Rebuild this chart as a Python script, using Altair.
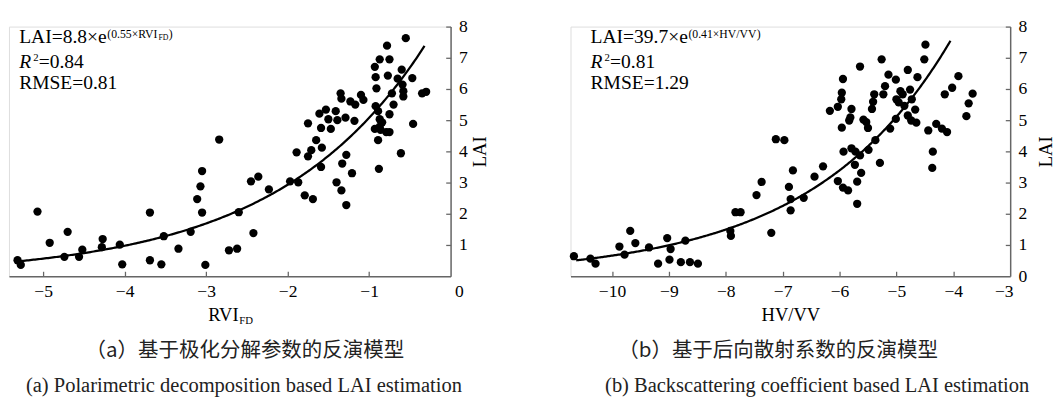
import altair as alt
import pandas as pd

SERIF = "Liberation Serif"
CJK = "Noto Sans CJK SC"

# ---- data ----
left_x = [-5.315, -5.275, -5.07, -4.92, -4.74, -4.70, -4.56, -4.52, -4.28, -4.27, -4.06, -4.03,
          -3.69, -3.69, -3.55, -3.52, -3.34, -3.19, -3.11, -3.07, -3.05, -3.05, -3.01, -2.84,
          -2.72, -2.62, -2.60, -2.42, -2.45, -2.36, -2.23, -1.97, -1.87, -1.89, -1.79, -1.69,
          -1.75, -1.71, -1.65, -1.58, -1.59, -1.75, -1.59, -1.61, -1.53, -1.50, -1.47, -1.41,
          -1.39, -1.40, -1.34, -1.28, -1.33, -1.28, -1.21, -1.35, -1.34, -1.29, -1.23, -1.17,
          -1.18, -1.10, -1.07, -0.92, -0.91, -0.92, -0.93, -0.87, -0.75, -0.78, -0.77, -0.55,
          -0.60, -0.65, -0.47, -0.59, -0.72, -0.70, -0.75, -0.58, -0.58, -0.89, -0.87, -0.93,
          -0.87, -0.84, -0.86, -0.89, -0.79, -0.75, -0.46, -0.61, -0.88, -0.35, -0.30]
left_y = [0.51, 0.36, 2.07, 1.07, 0.62, 1.42, 0.62, 0.85, 0.93, 1.19, 1.01, 0.38,
          2.04, 0.51, 0.38, 1.28, 0.88, 1.42, 2.47, 2.88, 3.37, 2.04, 0.36, 4.38,
          0.83, 0.88, 2.05, 1.38, 3.04, 3.19, 2.78, 3.04, 3.01, 3.97, 2.59, 2.47,
          3.84, 4.04, 4.36, 4.12, 3.50, 4.90, 4.75, 5.21, 5.34, 5.03, 4.72, 5.29,
          5.00, 3.01, 2.75, 2.28, 3.61, 3.89, 3.30, 5.86, 5.69, 5.08, 5.60, 5.50,
          4.98, 5.81, 5.65, 5.45, 6.02, 6.38, 6.71, 6.95, 6.95, 7.39, 6.43, 7.63,
          6.62, 6.33, 6.35, 6.14, 5.86, 5.50, 5.19, 5.93, 5.76, 5.29, 5.03, 4.72,
          4.79, 4.93, 4.69, 4.36, 4.62, 4.62, 4.88, 3.94, 3.44, 5.86, 5.91]

right_x = [-10.67, -10.38, -10.29, -9.87, -9.78, -9.68, -9.59, -9.35, -9.19, -9.03, -8.97, -8.99,
           -8.79, -8.71, -8.63, -8.49, -7.92, -7.91, -7.83, -7.74, -7.46, -7.37, -7.20, -7.12,
           -6.97, -6.89, -6.86, -6.86, -6.82, -6.63, -6.44, -6.29, -6.17, -6.03, -6.03, -5.94,
           -5.96, -5.97, -5.96, -5.93, -5.94, -5.85, -5.64, -5.79, -5.81, -5.83, -5.79, -5.72,
           -5.64, -5.73, -5.62, -5.69, -5.69, -5.58, -5.53, -5.50, -5.49, -5.43, -5.41, -5.39,
           -5.37, -5.29, -5.26, -5.23, -5.20, -5.14, -5.11, -5.01, -5.01, -5.00, -4.96, -4.93,
           -4.89, -4.86, -4.80, -4.80, -4.76, -4.74, -4.73, -4.67, -4.65, -4.63, -4.51, -4.49,
           -4.44, -4.36, -4.37, -4.30, -4.20, -4.11, -4.15, -4.02, -3.91, -3.77, -3.73, -3.66]
right_y = [0.64, 0.56, 0.40, 0.95, 0.69, 1.45, 1.06, 0.92, 0.40, 1.22, 0.87, 0.53,
           0.45, 1.14, 0.45, 0.40, 1.45, 1.29, 2.05, 2.05, 2.60, 3.02, 1.39, 4.39,
           4.36, 2.86, 2.47, 2.11, 3.39, 2.51, 3.19, 3.52, 5.30, 5.43, 3.05, 6.32,
           5.88, 5.67, 4.76, 3.99, 2.84, 2.75, 6.72, 5.36, 5.09, 4.99, 4.10, 3.99,
           3.87, 3.57, 3.31, 3.03, 2.32, 5.02, 4.94, 4.75, 4.05, 5.36, 5.59, 5.83,
           4.36, 3.63, 6.95, 5.83, 6.09, 6.46, 4.73, 6.30, 5.04, 5.67, 5.57, 5.93,
           5.83, 5.46, 6.61, 5.15, 5.98, 4.99, 5.67, 5.34, 4.92, 6.38, 6.95, 7.42,
           4.67, 3.99, 3.47, 4.88, 4.73, 4.62, 5.83, 6.04, 6.41, 5.13, 5.54, 5.85]

# fitted model coefficients (LAI = a * exp(b * x)), as printed on the chart
left_fit = [8.8, 0.55]
right_fit = [39.7, 0.41]
left_fit_range = [-5.3, -0.31]
right_fit_range = [-10.63, -4.05]

left_ticks_x = [-5, -4, -3, -2, -1, 0]
right_ticks_x = [-10, -9, -8, -7, -6, -5, -4, -3]
left_ticks_y = [1, 2, 3, 4, 5, 6, 7, 8]
right_ticks_y = [0, 1, 2, 3, 4, 5, 6, 7, 8]

left_eq = ["LAI=8.8×e", "(0.55×RVI", "FD", ")"]
right_eq = ["LAI=39.7×e", "(0.41×HV/VV", "", ")"]
left_r2 = ["R", "2", "=0.84"]
right_r2 = ["R", "2", "=0.81"]
left_rmse = "RMSE=0.81"
right_rmse = "RMSE=1.29"
left_xtitle = ["RVI", "FD"]
right_xtitle = ["HV/VV", ""]
left_caption = ["（a）基于极化分解参数的反演模型", "(a) Polarimetric decomposition based LAI estimation"]
right_caption = ["（b）基于后向散射系数的反演模型", "(b) Backscattering coefficient based LAI estimation"]

# Times metrics (Liberation Serif is metric compatible) to place sub/superscripts
TW = {'L': 611, 'A': 722, 'I': 333, '=': 564, '8': 500, '.': 250, '×': 564, 'e': 444, '3': 500,
      '9': 500, '7': 500, '(': 333, ')': 333, '0': 500, '5': 500, '4': 500, '1': 500, 'R': 667,
      'V': 722, 'H': 722, '/': 278, 'F': 556, 'D': 722, 'M': 889, 'S': 556, 'E': 611, '2': 500}


def tw(s, size):
    return sum(TW.get(c, 500) for c in s) * size / 1000.0


def txt(s, x, y, size, style="normal", font=SERIF, align="left", color="black"):
    return alt.Chart(pd.DataFrame({"t": [s]})).mark_text(
        align=align, baseline="alphabetic", fontSize=size, font=font,
        fontStyle=style, color=color
    ).encode(text="t:N", x=alt.value(x), y=alt.value(y))


H = 256
FS = 20
SUP = 12


def panel(xs, ys, xdom, W, xt, yt, fitc, frange, eq, r2, rmse, xtitle, caption, cn_cx,
          en_cx, ytitle_pad, x0, flush_off):
    df = pd.DataFrame({"x": xs, "y": ys})
    xs_ = alt.Scale(domain=xdom, nice=False, zero=False)
    ys_ = alt.Scale(domain=[0, 8], nice=False, zero=False)
    ax_col = "#666666"
    x_main = alt.X("x:Q", scale=xs_, axis=alt.Axis(
        orient="bottom", values=xt, ticks=False, tickSize=0, grid=False,
        domainColor=ax_col, domainWidth=1.5, labelFont=SERIF, labelFontSize=18,
        labelColor="black", labelPadding=7, labelFlush=True, labelFlushOffset=flush_off,
        format="d", title=xtitle[0], titleFont=SERIF, titleFontSize=19,
        titleFontWeight="normal", titleColor="black", titleBaseline="alphabetic",
        titleY=45, titleX=W / 2 - tw(xtitle[1], 11) / 2))
    y_main = alt.Y("y:Q", scale=ys_, axis=alt.Axis(
        orient="right", values=yt, ticks=False, tickSize=0, grid=False,
        domainColor=ax_col, domainWidth=1.5, labelFont=SERIF, labelFontSize=18,
        labelColor="black", labelPadding=8, labelFlush=False, format="d",
        title="LAI", titleFont=SERIF, titleFontSize=19, titleFontWeight="normal",
        titleColor="black", titleAngle=270, titleBaseline="top", titlePadding=ytitle_pad))
    x_tick = alt.X("x:Q", scale=xs_, axis=alt.Axis(
        orient="top", offset=-H, values=[v for v in xt[:-1]], labels=False, domain=False,
        ticks=True, tickSize=5, tickColor=ax_col, tickWidth=1.3, grid=False, title=None,
        minExtent=0, maxExtent=0))
    y_tick = alt.Y("y:Q", scale=ys_, axis=alt.Axis(
        orient="left", offset=-W, values=[v for v in yt if v > 0], labels=False, domain=False,
        ticks=True, tickSize=5, tickColor=ax_col, tickWidth=1.3, grid=False, title=None,
        minExtent=0, maxExtent=0))

    pts = alt.Chart(df).mark_circle(size=72, color="black", opacity=1).encode(x=x_main, y=y_main)
    fit = alt.Chart(alt.sequence(frange[0], frange[1] + 0.001, 0.02, as_="x")).transform_calculate(
        y=f"{fitc[0]} * exp({fitc[1]} * datum.x)"
    ).mark_line(color="black", strokeWidth=2.3).encode(x=x_tick, y=y_tick)

    b1, b2, b3 = 16.6, 42.6, 64.3
    w_main = tw(eq[0], FS)
    sx = x0 + w_main + 0.6
    w_sup = tw(eq[1], SUP)
    fx = sx + w_sup
    w_fd = tw(eq[2], 8)
    annots = [
        txt(eq[0], x0, b1, FS),
        txt(eq[1], sx, b1 - 4.5, SUP),
        txt(eq[3], fx + w_fd + 0.3, b1 - 4.5, SUP),
        txt(r2[0], x0, b2, FS, style="italic"),
        txt(r2[1], x0 + 14.3, b2 - 7, 11),
        txt(r2[2], x0 + 20, b2, FS),
        txt(rmse, x0, b3, FS),
        txt(caption[0], cn_cx, H + 83, 21, font=CJK, align="center", color="#222222"),
        txt(caption[1], en_cx, H + 119, 21, align="center", color="#222222"),
    ]
    if eq[2]:
        annots.append(txt(eq[2], fx, b1 - 2.5, 8))
    if xtitle[1]:
        annots.append(txt(xtitle[1], W / 2 - tw(xtitle[1], 11) / 2 + tw(xtitle[0], 19) / 2 + 0.5,
                          H + 49, 11))

    return alt.layer(pts, fit, *annots).resolve_axis(x="independent", y="independent").properties(
        width=W, height=H)


left = panel(left_x, left_y, [-5.42, 0], 453, left_ticks_x, left_ticks_y, left_fit, left_fit_range,
             left_eq, left_r2, left_rmse, left_xtitle, left_caption, 242, 241, 4, 10.5, 13)
right = panel(right_x, right_y, [-10.73, -3], 451, right_ticks_x, right_ticks_y, right_fit,
              right_fit_range, right_eq, right_r2, right_rmse, right_xtitle, right_caption, 213,
              253, 10, 20.6, 3)

chart = alt.hconcat(left, right, spacing=80).properties(
    padding={"left": 0, "top": 4, "right": 0, "bottom": 0}
).configure_view(stroke=None).configure(background="white")

chart.save("out.html", embed_options={"renderer": "svg", "actions": False})
